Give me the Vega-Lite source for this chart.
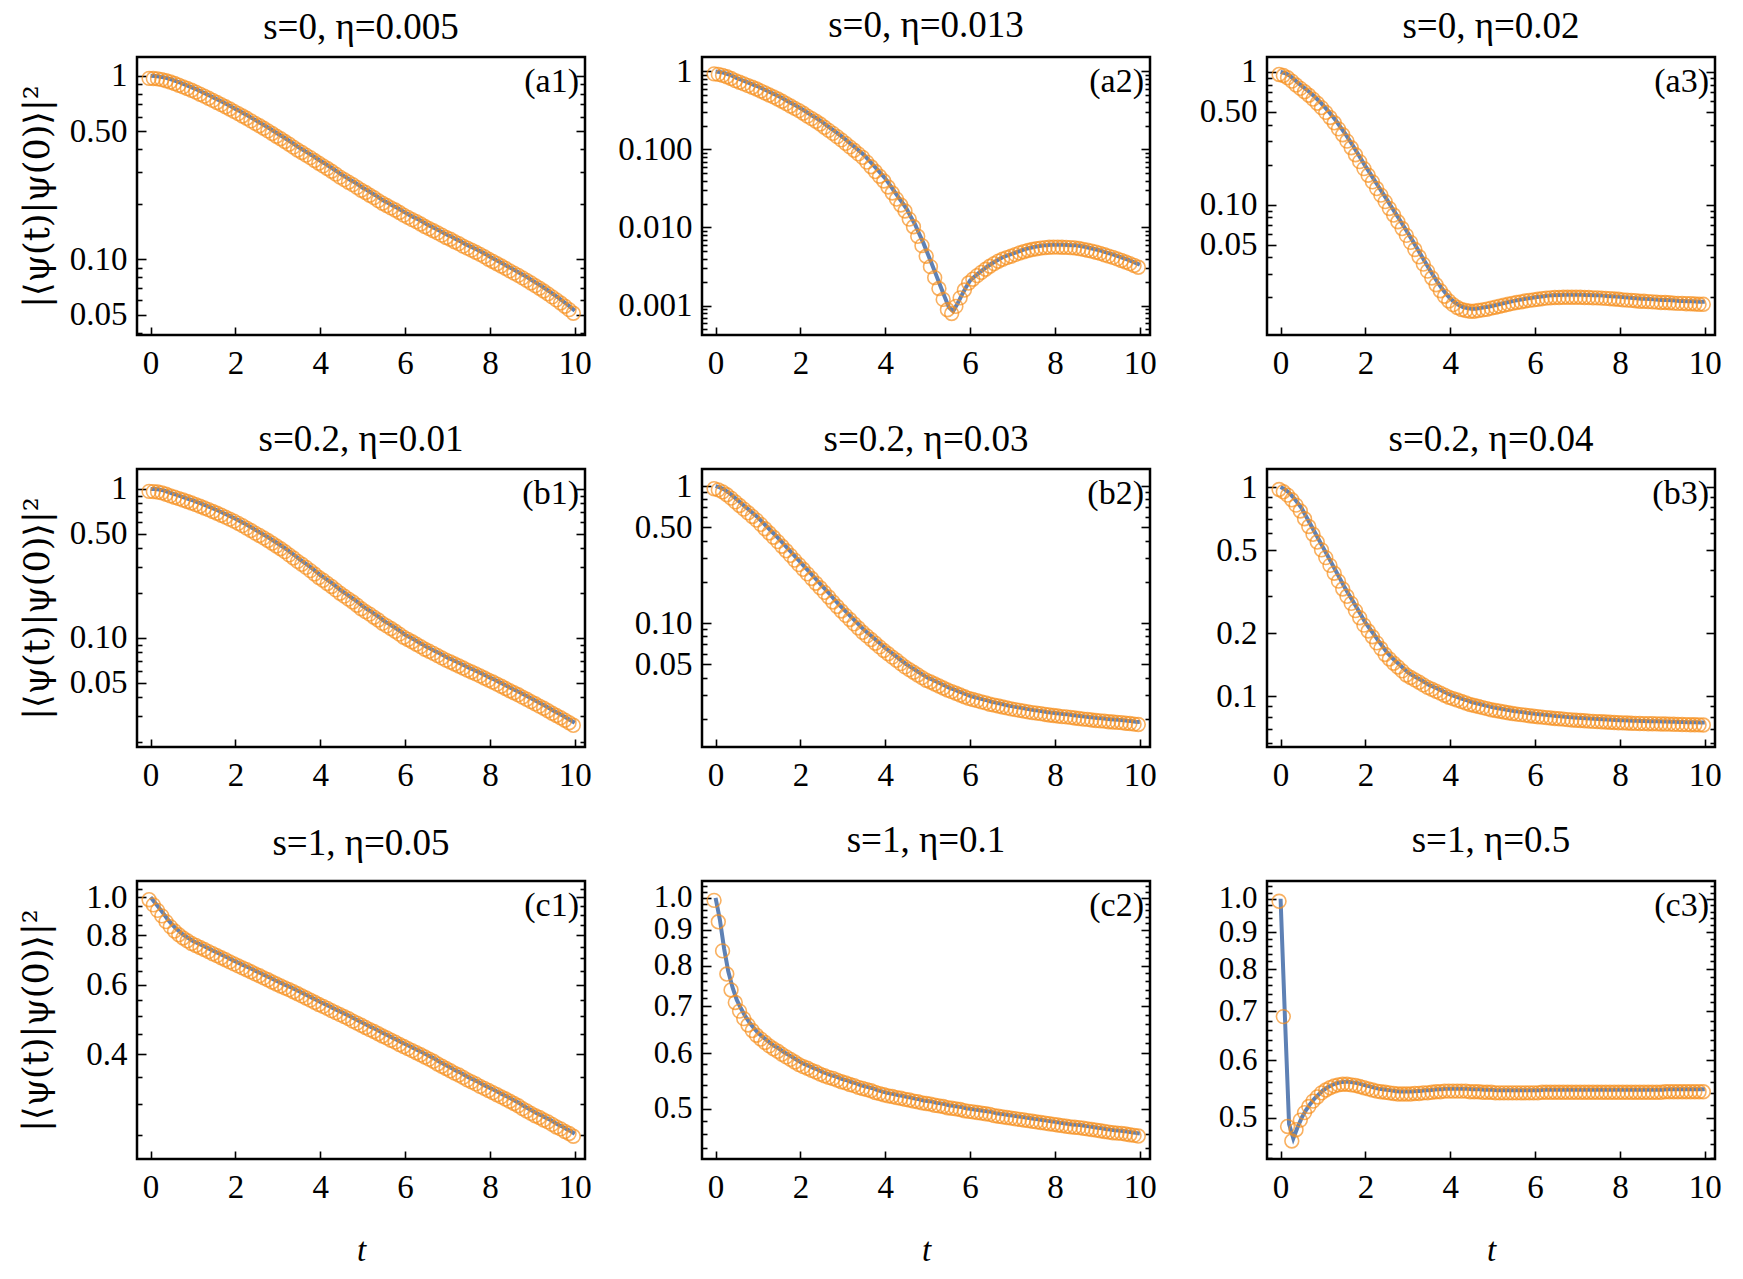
{
"$schema": "https://vega.github.io/schema/vega-lite/v6.json",
"padding": {"left": 18, "top": 6, "right": 10, "bottom": 4},
"background": "white",
"config": {
 "view": {"stroke": "black", "strokeWidth": 2.5},
 "axis": {"grid": false, "domain": false, "labelFlush": false, "labelOverlap": false, "labelBound": false, "tickColor": "black", "tickWidth": 1.6, "labelFont": "Liberation Serif", "labelFontSize": 33, "labelColor": "black", "titleFont": "Liberation Serif", "titleColor": "black", "titleFontWeight": "normal"},
 "title": {"font": "Liberation Serif", "fontSize": 37, "fontWeight": "normal", "color": "black", "offset": 10, "anchor": "middle"}
},
"datasets": {
"a1": [{"t":0,"y":1},{"t":0.1,"y":0.998},{"t":0.2,"y":0.993},{"t":0.3,"y":0.984},{"t":0.4,"y":0.971},{"t":0.5,"y":0.955},{"t":0.6,"y":0.937},{"t":0.7,"y":0.918},{"t":0.8,"y":0.899},{"t":0.9,"y":0.88},{"t":1,"y":0.861},{"t":1.1,"y":0.841},{"t":1.2,"y":0.82},{"t":1.3,"y":0.8},{"t":1.4,"y":0.779},{"t":1.5,"y":0.759},{"t":1.6,"y":0.739},{"t":1.7,"y":0.72},{"t":1.8,"y":0.7},{"t":1.9,"y":0.681},{"t":2,"y":0.661},{"t":2.1,"y":0.643},{"t":2.2,"y":0.624},{"t":2.3,"y":0.606},{"t":2.4,"y":0.587},{"t":2.5,"y":0.569},{"t":2.6,"y":0.552},{"t":2.7,"y":0.535},{"t":2.8,"y":0.518},{"t":2.9,"y":0.501},{"t":3,"y":0.484},{"t":3.1,"y":0.469},{"t":3.2,"y":0.453},{"t":3.3,"y":0.438},{"t":3.4,"y":0.422},{"t":3.5,"y":0.407},{"t":3.6,"y":0.395},{"t":3.7,"y":0.382},{"t":3.8,"y":0.37},{"t":3.9,"y":0.357},{"t":4,"y":0.345},{"t":4.1,"y":0.334},{"t":4.2,"y":0.323},{"t":4.3,"y":0.312},{"t":4.4,"y":0.301},{"t":4.5,"y":0.29},{"t":4.6,"y":0.281},{"t":4.7,"y":0.272},{"t":4.8,"y":0.264},{"t":4.9,"y":0.255},{"t":5,"y":0.246},{"t":5.1,"y":0.239},{"t":5.2,"y":0.231},{"t":5.3,"y":0.224},{"t":5.4,"y":0.216},{"t":5.5,"y":0.209},{"t":5.6,"y":0.203},{"t":5.7,"y":0.197},{"t":5.8,"y":0.192},{"t":5.9,"y":0.186},{"t":6,"y":0.18},{"t":6.1,"y":0.175},{"t":6.2,"y":0.17},{"t":6.3,"y":0.166},{"t":6.4,"y":0.161},{"t":6.5,"y":0.156},{"t":6.6,"y":0.152},{"t":6.7,"y":0.148},{"t":6.8,"y":0.144},{"t":6.9,"y":0.14},{"t":7,"y":0.136},{"t":7.1,"y":0.133},{"t":7.2,"y":0.129},{"t":7.3,"y":0.126},{"t":7.4,"y":0.122},{"t":7.5,"y":0.119},{"t":7.6,"y":0.116},{"t":7.7,"y":0.113},{"t":7.8,"y":0.11},{"t":7.9,"y":0.107},{"t":8,"y":0.1035},{"t":8.1,"y":0.1007},{"t":8.2,"y":0.0979},{"t":8.3,"y":0.0951},{"t":8.4,"y":0.0923},{"t":8.5,"y":0.0895},{"t":8.6,"y":0.087},{"t":8.7,"y":0.0845},{"t":8.8,"y":0.082},{"t":8.9,"y":0.0794},{"t":9,"y":0.0769},{"t":9.1,"y":0.0744},{"t":9.2,"y":0.072},{"t":9.3,"y":0.0695},{"t":9.4,"y":0.0671},{"t":9.5,"y":0.0646},{"t":9.6,"y":0.0622},{"t":9.7,"y":0.0598},{"t":9.8,"y":0.0574},{"t":9.9,"y":0.055},{"t":10,"y":0.0526}],
"a2": [{"t":0,"y":1},{"t":0.1,"y":0.986},{"t":0.2,"y":0.959},{"t":0.3,"y":0.92},{"t":0.4,"y":0.873},{"t":0.5,"y":0.82},{"t":0.6,"y":0.782},{"t":0.7,"y":0.745},{"t":0.8,"y":0.708},{"t":0.9,"y":0.674},{"t":1,"y":0.641},{"t":1.1,"y":0.604},{"t":1.2,"y":0.57},{"t":1.3,"y":0.537},{"t":1.4,"y":0.507},{"t":1.5,"y":0.477},{"t":1.6,"y":0.446},{"t":1.7,"y":0.416},{"t":1.8,"y":0.388},{"t":1.9,"y":0.362},{"t":2,"y":0.338},{"t":2.1,"y":0.313},{"t":2.2,"y":0.288},{"t":2.3,"y":0.267},{"t":2.4,"y":0.247},{"t":2.5,"y":0.228},{"t":2.6,"y":0.207},{"t":2.7,"y":0.189},{"t":2.8,"y":0.173},{"t":2.9,"y":0.157},{"t":3,"y":0.143},{"t":3.1,"y":0.129},{"t":3.2,"y":0.116},{"t":3.3,"y":0.105},{"t":3.4,"y":0.0944},{"t":3.5,"y":0.0851},{"t":3.6,"y":0.0741},{"t":3.7,"y":0.0646},{"t":3.8,"y":0.0561},{"t":3.9,"y":0.0489},{"t":4,"y":0.0425},{"t":4.1,"y":0.0356},{"t":4.2,"y":0.0298},{"t":4.3,"y":0.0249},{"t":4.4,"y":0.0209},{"t":4.5,"y":0.0175},{"t":4.6,"y":0.0138},{"t":4.7,"y":0.011},{"t":4.8,"y":0.0083},{"t":4.9,"y":0.0063},{"t":5,"y":0.00461},{"t":5.1,"y":0.00339},{"t":5.2,"y":0.00245},{"t":5.3,"y":0.00178},{"t":5.4,"y":0.00129},{"t":5.5,"y":0.00095},{"t":5.6,"y":0.00085},{"t":5.7,"y":0.00105},{"t":5.8,"y":0.00135},{"t":5.9,"y":0.0017},{"t":6,"y":0.00209},{"t":6.1,"y":0.00234},{"t":6.2,"y":0.0026},{"t":6.3,"y":0.00286},{"t":6.4,"y":0.00314},{"t":6.5,"y":0.00343},{"t":6.6,"y":0.0037},{"t":6.7,"y":0.00398},{"t":6.8,"y":0.00422},{"t":6.9,"y":0.00443},{"t":7,"y":0.00461},{"t":7.1,"y":0.00484},{"t":7.2,"y":0.00507},{"t":7.3,"y":0.00527},{"t":7.4,"y":0.00546},{"t":7.5,"y":0.00562},{"t":7.6,"y":0.00575},{"t":7.7,"y":0.00586},{"t":7.8,"y":0.00594},{"t":7.9,"y":0.006},{"t":8,"y":0.00603},{"t":8.1,"y":0.00603},{"t":8.2,"y":0.00601},{"t":8.3,"y":0.00598},{"t":8.4,"y":0.00594},{"t":8.5,"y":0.0059},{"t":8.6,"y":0.00578},{"t":8.7,"y":0.00565},{"t":8.8,"y":0.0055},{"t":8.9,"y":0.00535},{"t":9,"y":0.00519},{"t":9.1,"y":0.00501},{"t":9.2,"y":0.00481},{"t":9.3,"y":0.00463},{"t":9.4,"y":0.00445},{"t":9.5,"y":0.00427},{"t":9.6,"y":0.00407},{"t":9.7,"y":0.00389},{"t":9.8,"y":0.0037},{"t":9.9,"y":0.00351},{"t":10,"y":0.00333}],
"a3": [{"t":0,"y":1},{"t":0.1,"y":0.982},{"t":0.2,"y":0.944},{"t":0.3,"y":0.891},{"t":0.4,"y":0.832},{"t":0.5,"y":0.785},{"t":0.6,"y":0.741},{"t":0.7,"y":0.697},{"t":0.8,"y":0.652},{"t":0.9,"y":0.607},{"t":1,"y":0.562},{"t":1.1,"y":0.518},{"t":1.2,"y":0.474},{"t":1.3,"y":0.432},{"t":1.4,"y":0.389},{"t":1.5,"y":0.351},{"t":1.6,"y":0.314},{"t":1.7,"y":0.28},{"t":1.8,"y":0.248},{"t":1.9,"y":0.22},{"t":2,"y":0.195},{"t":2.1,"y":0.174},{"t":2.2,"y":0.155},{"t":2.3,"y":0.138},{"t":2.4,"y":0.123},{"t":2.5,"y":0.11},{"t":2.6,"y":0.0977},{"t":2.7,"y":0.0871},{"t":2.8,"y":0.0776},{"t":2.9,"y":0.0689},{"t":3,"y":0.0612},{"t":3.1,"y":0.0542},{"t":3.2,"y":0.0479},{"t":3.3,"y":0.0422},{"t":3.4,"y":0.0372},{"t":3.5,"y":0.0329},{"t":3.6,"y":0.0292},{"t":3.7,"y":0.026},{"t":3.8,"y":0.0234},{"t":3.9,"y":0.0213},{"t":4,"y":0.0196},{"t":4.1,"y":0.0184},{"t":4.2,"y":0.0175},{"t":4.3,"y":0.0169},{"t":4.4,"y":0.0166},{"t":4.5,"y":0.0164},{"t":4.6,"y":0.0164},{"t":4.7,"y":0.0166},{"t":4.8,"y":0.0168},{"t":4.9,"y":0.017},{"t":5,"y":0.0173},{"t":5.1,"y":0.0176},{"t":5.2,"y":0.0179},{"t":5.3,"y":0.0182},{"t":5.4,"y":0.0185},{"t":5.5,"y":0.0188},{"t":5.6,"y":0.0191},{"t":5.7,"y":0.0193},{"t":5.8,"y":0.0196},{"t":5.9,"y":0.0198},{"t":6,"y":0.02},{"t":6.1,"y":0.0202},{"t":6.2,"y":0.0204},{"t":6.3,"y":0.0206},{"t":6.4,"y":0.0207},{"t":6.5,"y":0.0208},{"t":6.6,"y":0.0208},{"t":6.7,"y":0.0209},{"t":6.8,"y":0.0209},{"t":6.9,"y":0.0209},{"t":7,"y":0.0209},{"t":7.1,"y":0.0209},{"t":7.2,"y":0.0208},{"t":7.3,"y":0.0208},{"t":7.4,"y":0.0207},{"t":7.5,"y":0.0207},{"t":7.6,"y":0.0206},{"t":7.7,"y":0.0205},{"t":7.8,"y":0.0204},{"t":7.9,"y":0.0203},{"t":8,"y":0.0202},{"t":8.1,"y":0.02},{"t":8.2,"y":0.0199},{"t":8.3,"y":0.0198},{"t":8.4,"y":0.0197},{"t":8.5,"y":0.0195},{"t":8.6,"y":0.0195},{"t":8.7,"y":0.0194},{"t":8.8,"y":0.0193},{"t":8.9,"y":0.0192},{"t":9,"y":0.0191},{"t":9.1,"y":0.0191},{"t":9.2,"y":0.019},{"t":9.3,"y":0.0189},{"t":9.4,"y":0.0188},{"t":9.5,"y":0.0188},{"t":9.6,"y":0.0187},{"t":9.7,"y":0.0187},{"t":9.8,"y":0.0186},{"t":9.9,"y":0.0185},{"t":10,"y":0.0185}],
"b1": [{"t":0,"y":1},{"t":0.1,"y":0.997},{"t":0.2,"y":0.99},{"t":0.3,"y":0.977},{"t":0.4,"y":0.957},{"t":0.5,"y":0.933},{"t":0.6,"y":0.914},{"t":0.7,"y":0.894},{"t":0.8,"y":0.875},{"t":0.9,"y":0.855},{"t":1,"y":0.836},{"t":1.1,"y":0.815},{"t":1.2,"y":0.795},{"t":1.3,"y":0.774},{"t":1.4,"y":0.754},{"t":1.5,"y":0.733},{"t":1.6,"y":0.713},{"t":1.7,"y":0.692},{"t":1.8,"y":0.672},{"t":1.9,"y":0.651},{"t":2,"y":0.631},{"t":2.1,"y":0.61},{"t":2.2,"y":0.589},{"t":2.3,"y":0.567},{"t":2.4,"y":0.546},{"t":2.5,"y":0.525},{"t":2.6,"y":0.506},{"t":2.7,"y":0.487},{"t":2.8,"y":0.468},{"t":2.9,"y":0.449},{"t":3,"y":0.43},{"t":3.1,"y":0.412},{"t":3.2,"y":0.394},{"t":3.3,"y":0.375},{"t":3.4,"y":0.357},{"t":3.5,"y":0.339},{"t":3.6,"y":0.324},{"t":3.7,"y":0.309},{"t":3.8,"y":0.294},{"t":3.9,"y":0.279},{"t":4,"y":0.264},{"t":4.1,"y":0.253},{"t":4.2,"y":0.241},{"t":4.3,"y":0.23},{"t":4.4,"y":0.218},{"t":4.5,"y":0.207},{"t":4.6,"y":0.198},{"t":4.7,"y":0.189},{"t":4.8,"y":0.181},{"t":4.9,"y":0.172},{"t":5,"y":0.163},{"t":5.1,"y":0.156},{"t":5.2,"y":0.15},{"t":5.3,"y":0.143},{"t":5.4,"y":0.137},{"t":5.5,"y":0.13},{"t":5.6,"y":0.125},{"t":5.7,"y":0.12},{"t":5.8,"y":0.115},{"t":5.9,"y":0.11},{"t":6,"y":0.105},{"t":6.1,"y":0.1014},{"t":6.2,"y":0.0978},{"t":6.3,"y":0.0942},{"t":6.4,"y":0.0907},{"t":6.5,"y":0.0871},{"t":6.6,"y":0.0844},{"t":6.7,"y":0.0817},{"t":6.8,"y":0.079},{"t":6.9,"y":0.0763},{"t":7,"y":0.0736},{"t":7.1,"y":0.0715},{"t":7.2,"y":0.0694},{"t":7.3,"y":0.0673},{"t":7.4,"y":0.0652},{"t":7.5,"y":0.0631},{"t":7.6,"y":0.0613},{"t":7.7,"y":0.0595},{"t":7.8,"y":0.0577},{"t":7.9,"y":0.0559},{"t":8,"y":0.0541},{"t":8.1,"y":0.0525},{"t":8.2,"y":0.0508},{"t":8.3,"y":0.0492},{"t":8.4,"y":0.0475},{"t":8.5,"y":0.0459},{"t":8.6,"y":0.0445},{"t":8.7,"y":0.0431},{"t":8.8,"y":0.0416},{"t":8.9,"y":0.0402},{"t":9,"y":0.0388},{"t":9.1,"y":0.0375},{"t":9.2,"y":0.0362},{"t":9.3,"y":0.035},{"t":9.4,"y":0.0337},{"t":9.5,"y":0.0324},{"t":9.6,"y":0.0313},{"t":9.7,"y":0.0302},{"t":9.8,"y":0.0291},{"t":9.9,"y":0.028},{"t":10,"y":0.0269}],
"b2": [{"t":0,"y":1},{"t":0.1,"y":0.98},{"t":0.2,"y":0.947},{"t":0.3,"y":0.903},{"t":0.4,"y":0.853},{"t":0.5,"y":0.801},{"t":0.6,"y":0.754},{"t":0.7,"y":0.709},{"t":0.8,"y":0.667},{"t":0.9,"y":0.627},{"t":1,"y":0.59},{"t":1.1,"y":0.549},{"t":1.2,"y":0.51},{"t":1.3,"y":0.475},{"t":1.4,"y":0.442},{"t":1.5,"y":0.411},{"t":1.6,"y":0.38},{"t":1.7,"y":0.352},{"t":1.8,"y":0.326},{"t":1.9,"y":0.301},{"t":2,"y":0.279},{"t":2.1,"y":0.258},{"t":2.2,"y":0.239},{"t":2.3,"y":0.221},{"t":2.4,"y":0.204},{"t":2.5,"y":0.189},{"t":2.6,"y":0.175},{"t":2.7,"y":0.162},{"t":2.8,"y":0.149},{"t":2.9,"y":0.138},{"t":3,"y":0.128},{"t":3.1,"y":0.119},{"t":3.2,"y":0.111},{"t":3.3,"y":0.103},{"t":3.4,"y":0.0962},{"t":3.5,"y":0.0895},{"t":3.6,"y":0.0842},{"t":3.7,"y":0.0792},{"t":3.8,"y":0.0745},{"t":3.9,"y":0.0701},{"t":4,"y":0.0659},{"t":4.1,"y":0.0624},{"t":4.2,"y":0.059},{"t":4.3,"y":0.0559},{"t":4.4,"y":0.0529},{"t":4.5,"y":0.05},{"t":4.6,"y":0.0478},{"t":4.7,"y":0.0457},{"t":4.8,"y":0.0437},{"t":4.9,"y":0.0418},{"t":5,"y":0.04},{"t":5.1,"y":0.0388},{"t":5.2,"y":0.0375},{"t":5.3,"y":0.0363},{"t":5.4,"y":0.0351},{"t":5.5,"y":0.0339},{"t":5.6,"y":0.033},{"t":5.7,"y":0.0321},{"t":5.8,"y":0.0312},{"t":5.9,"y":0.0303},{"t":6,"y":0.0295},{"t":6.1,"y":0.0289},{"t":6.2,"y":0.0284},{"t":6.3,"y":0.0278},{"t":6.4,"y":0.0273},{"t":6.5,"y":0.0267},{"t":6.6,"y":0.0263},{"t":6.7,"y":0.0259},{"t":6.8,"y":0.0255},{"t":6.9,"y":0.0251},{"t":7,"y":0.0247},{"t":7.1,"y":0.0244},{"t":7.2,"y":0.0241},{"t":7.3,"y":0.0238},{"t":7.4,"y":0.0235},{"t":7.5,"y":0.0232},{"t":7.6,"y":0.023},{"t":7.7,"y":0.0228},{"t":7.8,"y":0.0225},{"t":7.9,"y":0.0223},{"t":8,"y":0.0221},{"t":8.1,"y":0.0219},{"t":8.2,"y":0.0217},{"t":8.3,"y":0.0216},{"t":8.4,"y":0.0214},{"t":8.5,"y":0.0212},{"t":8.6,"y":0.021},{"t":8.7,"y":0.0208},{"t":8.8,"y":0.0207},{"t":8.9,"y":0.0205},{"t":9,"y":0.0203},{"t":9.1,"y":0.0202},{"t":9.2,"y":0.0201},{"t":9.3,"y":0.0199},{"t":9.4,"y":0.0198},{"t":9.5,"y":0.0197},{"t":9.6,"y":0.0196},{"t":9.7,"y":0.0194},{"t":9.8,"y":0.0193},{"t":9.9,"y":0.0191},{"t":10,"y":0.019}],
"b3": [{"t":0,"y":1},{"t":0.1,"y":0.975},{"t":0.2,"y":0.94},{"t":0.3,"y":0.893},{"t":0.4,"y":0.842},{"t":0.5,"y":0.79},{"t":0.6,"y":0.725},{"t":0.7,"y":0.666},{"t":0.8,"y":0.611},{"t":0.9,"y":0.561},{"t":1,"y":0.515},{"t":1.1,"y":0.473},{"t":1.2,"y":0.434},{"t":1.3,"y":0.398},{"t":1.4,"y":0.365},{"t":1.5,"y":0.335},{"t":1.6,"y":0.309},{"t":1.7,"y":0.286},{"t":1.8,"y":0.264},{"t":1.9,"y":0.244},{"t":2,"y":0.225},{"t":2.1,"y":0.211},{"t":2.2,"y":0.198},{"t":2.3,"y":0.185},{"t":2.4,"y":0.174},{"t":2.5,"y":0.163},{"t":2.6,"y":0.155},{"t":2.7,"y":0.148},{"t":2.8,"y":0.142},{"t":2.9,"y":0.136},{"t":3,"y":0.13},{"t":3.1,"y":0.1265},{"t":3.2,"y":0.1232},{"t":3.3,"y":0.12},{"t":3.4,"y":0.1167},{"t":3.5,"y":0.1135},{"t":3.6,"y":0.1111},{"t":3.7,"y":0.1088},{"t":3.8,"y":0.1065},{"t":3.9,"y":0.1041},{"t":4,"y":0.1018},{"t":4.1,"y":0.1002},{"t":4.2,"y":0.0987},{"t":4.3,"y":0.0971},{"t":4.4,"y":0.0956},{"t":4.5,"y":0.094},{"t":4.6,"y":0.0929},{"t":4.7,"y":0.0919},{"t":4.8,"y":0.0908},{"t":4.9,"y":0.0898},{"t":5,"y":0.0887},{"t":5.1,"y":0.088},{"t":5.2,"y":0.0873},{"t":5.3,"y":0.0865},{"t":5.4,"y":0.0858},{"t":5.5,"y":0.0851},{"t":5.6,"y":0.0846},{"t":5.7,"y":0.0841},{"t":5.8,"y":0.0836},{"t":5.9,"y":0.0831},{"t":6,"y":0.0826},{"t":6.1,"y":0.0822},{"t":6.2,"y":0.0818},{"t":6.3,"y":0.0814},{"t":6.4,"y":0.081},{"t":6.5,"y":0.0806},{"t":6.6,"y":0.0803},{"t":6.7,"y":0.08},{"t":6.8,"y":0.0796},{"t":6.9,"y":0.0793},{"t":7,"y":0.079},{"t":7.1,"y":0.0788},{"t":7.2,"y":0.0786},{"t":7.3,"y":0.0783},{"t":7.4,"y":0.0781},{"t":7.5,"y":0.0779},{"t":7.6,"y":0.0777},{"t":7.7,"y":0.0775},{"t":7.8,"y":0.0773},{"t":7.9,"y":0.0771},{"t":8,"y":0.0769},{"t":8.1,"y":0.0768},{"t":8.2,"y":0.0767},{"t":8.3,"y":0.0765},{"t":8.4,"y":0.0764},{"t":8.5,"y":0.0763},{"t":8.6,"y":0.0762},{"t":8.7,"y":0.0761},{"t":8.8,"y":0.0761},{"t":8.9,"y":0.076},{"t":9,"y":0.0759},{"t":9.1,"y":0.0758},{"t":9.2,"y":0.0757},{"t":9.3,"y":0.0756},{"t":9.4,"y":0.0755},{"t":9.5,"y":0.0754},{"t":9.6,"y":0.0753},{"t":9.7,"y":0.0752},{"t":9.8,"y":0.0752},{"t":9.9,"y":0.0751},{"t":10,"y":0.075}],
"c1": [{"t":0,"y":1},{"t":0.1,"y":0.97},{"t":0.2,"y":0.94},{"t":0.3,"y":0.91},{"t":0.4,"y":0.88},{"t":0.5,"y":0.855},{"t":0.6,"y":0.833},{"t":0.7,"y":0.815},{"t":0.8,"y":0.8},{"t":0.9,"y":0.787},{"t":1,"y":0.775},{"t":1.1,"y":0.766},{"t":1.2,"y":0.757},{"t":1.3,"y":0.748},{"t":1.4,"y":0.739},{"t":1.5,"y":0.73},{"t":1.6,"y":0.722},{"t":1.7,"y":0.713},{"t":1.8,"y":0.705},{"t":1.9,"y":0.696},{"t":2,"y":0.688},{"t":2.1,"y":0.68},{"t":2.2,"y":0.672},{"t":2.3,"y":0.665},{"t":2.4,"y":0.657},{"t":2.5,"y":0.649},{"t":2.6,"y":0.642},{"t":2.7,"y":0.634},{"t":2.8,"y":0.627},{"t":2.9,"y":0.619},{"t":3,"y":0.612},{"t":3.1,"y":0.605},{"t":3.2,"y":0.598},{"t":3.3,"y":0.592},{"t":3.4,"y":0.585},{"t":3.5,"y":0.578},{"t":3.6,"y":0.571},{"t":3.7,"y":0.564},{"t":3.8,"y":0.557},{"t":3.9,"y":0.55},{"t":4,"y":0.543},{"t":4.1,"y":0.537},{"t":4.2,"y":0.531},{"t":4.3,"y":0.524},{"t":4.4,"y":0.518},{"t":4.5,"y":0.512},{"t":4.6,"y":0.506},{"t":4.7,"y":0.5},{"t":4.8,"y":0.493},{"t":4.9,"y":0.487},{"t":5,"y":0.481},{"t":5.1,"y":0.475},{"t":5.2,"y":0.469},{"t":5.3,"y":0.464},{"t":5.4,"y":0.458},{"t":5.5,"y":0.452},{"t":5.6,"y":0.447},{"t":5.7,"y":0.441},{"t":5.8,"y":0.436},{"t":5.9,"y":0.43},{"t":6,"y":0.425},{"t":6.1,"y":0.42},{"t":6.2,"y":0.415},{"t":6.3,"y":0.41},{"t":6.4,"y":0.405},{"t":6.5,"y":0.4},{"t":6.6,"y":0.395},{"t":6.7,"y":0.39},{"t":6.8,"y":0.384},{"t":6.9,"y":0.379},{"t":7,"y":0.374},{"t":7.1,"y":0.369},{"t":7.2,"y":0.364},{"t":7.3,"y":0.36},{"t":7.4,"y":0.355},{"t":7.5,"y":0.35},{"t":7.6,"y":0.346},{"t":7.7,"y":0.342},{"t":7.8,"y":0.337},{"t":7.9,"y":0.333},{"t":8,"y":0.329},{"t":8.1,"y":0.325},{"t":8.2,"y":0.321},{"t":8.3,"y":0.317},{"t":8.4,"y":0.313},{"t":8.5,"y":0.309},{"t":8.6,"y":0.305},{"t":8.7,"y":0.301},{"t":8.8,"y":0.296},{"t":8.9,"y":0.292},{"t":9,"y":0.288},{"t":9.1,"y":0.284},{"t":9.2,"y":0.281},{"t":9.3,"y":0.277},{"t":9.4,"y":0.274},{"t":9.5,"y":0.27},{"t":9.6,"y":0.266},{"t":9.7,"y":0.263},{"t":9.8,"y":0.259},{"t":9.9,"y":0.256},{"t":10,"y":0.252}],
"c2": [{"t":0,"y":1},{"t":0.1,"y":0.932},{"t":0.2,"y":0.847},{"t":0.3,"y":0.785},{"t":0.4,"y":0.745},{"t":0.5,"y":0.715},{"t":0.6,"y":0.695},{"t":0.7,"y":0.678},{"t":0.8,"y":0.664},{"t":0.9,"y":0.652},{"t":1,"y":0.642},{"t":1.1,"y":0.634},{"t":1.2,"y":0.627},{"t":1.3,"y":0.62},{"t":1.4,"y":0.614},{"t":1.5,"y":0.609},{"t":1.6,"y":0.603},{"t":1.7,"y":0.598},{"t":1.8,"y":0.593},{"t":1.9,"y":0.588},{"t":2,"y":0.583},{"t":2.1,"y":0.579},{"t":2.2,"y":0.576},{"t":2.3,"y":0.572},{"t":2.4,"y":0.569},{"t":2.5,"y":0.565},{"t":2.6,"y":0.562},{"t":2.7,"y":0.559},{"t":2.8,"y":0.557},{"t":2.9,"y":0.554},{"t":3,"y":0.551},{"t":3.1,"y":0.549},{"t":3.2,"y":0.546},{"t":3.3,"y":0.544},{"t":3.4,"y":0.541},{"t":3.5,"y":0.539},{"t":3.6,"y":0.537},{"t":3.7,"y":0.535},{"t":3.8,"y":0.532},{"t":3.9,"y":0.53},{"t":4,"y":0.528},{"t":4.1,"y":0.526},{"t":4.2,"y":0.525},{"t":4.3,"y":0.523},{"t":4.4,"y":0.522},{"t":4.5,"y":0.52},{"t":4.6,"y":0.519},{"t":4.7,"y":0.517},{"t":4.8,"y":0.516},{"t":4.9,"y":0.514},{"t":5,"y":0.513},{"t":5.1,"y":0.512},{"t":5.2,"y":0.51},{"t":5.3,"y":0.509},{"t":5.4,"y":0.508},{"t":5.5,"y":0.506},{"t":5.6,"y":0.505},{"t":5.7,"y":0.504},{"t":5.8,"y":0.503},{"t":5.9,"y":0.501},{"t":6,"y":0.5},{"t":6.1,"y":0.499},{"t":6.2,"y":0.498},{"t":6.3,"y":0.497},{"t":6.4,"y":0.496},{"t":6.5,"y":0.495},{"t":6.6,"y":0.493},{"t":6.7,"y":0.492},{"t":6.8,"y":0.491},{"t":6.9,"y":0.49},{"t":7,"y":0.489},{"t":7.1,"y":0.488},{"t":7.2,"y":0.487},{"t":7.3,"y":0.486},{"t":7.4,"y":0.485},{"t":7.5,"y":0.484},{"t":7.6,"y":0.483},{"t":7.7,"y":0.482},{"t":7.8,"y":0.481},{"t":7.9,"y":0.48},{"t":8,"y":0.479},{"t":8.1,"y":0.478},{"t":8.2,"y":0.477},{"t":8.3,"y":0.476},{"t":8.4,"y":0.475},{"t":8.5,"y":0.4745},{"t":8.6,"y":0.474},{"t":8.7,"y":0.473},{"t":8.8,"y":0.472},{"t":8.9,"y":0.471},{"t":9,"y":0.47},{"t":9.1,"y":0.469},{"t":9.2,"y":0.468},{"t":9.3,"y":0.467},{"t":9.4,"y":0.466},{"t":9.5,"y":0.4655},{"t":9.6,"y":0.465},{"t":9.7,"y":0.464},{"t":9.8,"y":0.463},{"t":9.9,"y":0.462},{"t":10,"y":0.461}],
"c3": [{"t":0,"y":1},{"t":0.1,"y":0.694},{"t":0.2,"y":0.49},{"t":0.3,"y":0.468},{"t":0.4,"y":0.485},{"t":0.5,"y":0.5},{"t":0.6,"y":0.512},{"t":0.7,"y":0.522},{"t":0.8,"y":0.531},{"t":0.9,"y":0.538},{"t":1,"y":0.545},{"t":1.1,"y":0.55},{"t":1.2,"y":0.554},{"t":1.3,"y":0.557},{"t":1.4,"y":0.559},{"t":1.5,"y":0.56},{"t":1.6,"y":0.56},{"t":1.7,"y":0.559},{"t":1.8,"y":0.558},{"t":1.9,"y":0.556},{"t":2,"y":0.554},{"t":2.1,"y":0.552},{"t":2.2,"y":0.55},{"t":2.3,"y":0.548},{"t":2.4,"y":0.547},{"t":2.5,"y":0.546},{"t":2.6,"y":0.545},{"t":2.7,"y":0.544},{"t":2.8,"y":0.543},{"t":2.9,"y":0.543},{"t":3,"y":0.543},{"t":3.1,"y":0.543},{"t":3.2,"y":0.544},{"t":3.3,"y":0.544},{"t":3.4,"y":0.545},{"t":3.5,"y":0.545},{"t":3.6,"y":0.546},{"t":3.7,"y":0.547},{"t":3.8,"y":0.547},{"t":3.9,"y":0.548},{"t":4,"y":0.548},{"t":4.1,"y":0.548},{"t":4.2,"y":0.548},{"t":4.3,"y":0.548},{"t":4.4,"y":0.548},{"t":4.5,"y":0.547},{"t":4.6,"y":0.547},{"t":4.7,"y":0.547},{"t":4.8,"y":0.546},{"t":4.9,"y":0.546},{"t":5,"y":0.546},{"t":5.1,"y":0.545},{"t":5.2,"y":0.545},{"t":5.3,"y":0.545},{"t":5.4,"y":0.545},{"t":5.5,"y":0.545},{"t":5.6,"y":0.545},{"t":5.7,"y":0.545},{"t":5.8,"y":0.545},{"t":5.9,"y":0.545},{"t":6,"y":0.545},{"t":6.1,"y":0.545},{"t":6.2,"y":0.546},{"t":6.3,"y":0.546},{"t":6.4,"y":0.546},{"t":6.5,"y":0.546},{"t":6.6,"y":0.546},{"t":6.7,"y":0.546},{"t":6.8,"y":0.546},{"t":6.9,"y":0.546},{"t":7,"y":0.546},{"t":7.1,"y":0.546},{"t":7.2,"y":0.546},{"t":7.3,"y":0.546},{"t":7.4,"y":0.546},{"t":7.5,"y":0.546},{"t":7.6,"y":0.546},{"t":7.7,"y":0.546},{"t":7.8,"y":0.546},{"t":7.9,"y":0.546},{"t":8,"y":0.546},{"t":8.1,"y":0.546},{"t":8.2,"y":0.546},{"t":8.3,"y":0.546},{"t":8.4,"y":0.546},{"t":8.5,"y":0.546},{"t":8.6,"y":0.546},{"t":8.7,"y":0.546},{"t":8.8,"y":0.546},{"t":8.9,"y":0.546},{"t":9,"y":0.546},{"t":9.1,"y":0.547},{"t":9.2,"y":0.547},{"t":9.3,"y":0.547},{"t":9.4,"y":0.547},{"t":9.5,"y":0.547},{"t":9.6,"y":0.547},{"t":9.7,"y":0.547},{"t":9.8,"y":0.547},{"t":9.9,"y":0.547},{"t":10,"y":0.547}]
},
"concat": [
{"width": 448, "height": 278, "title": "s=0, η=0.005", "data": {"name": "a1"},
 "resolve": {"axis": {"x": "independent", "y": "independent"}},
 "layer": [
  {"mark": {"type": "line", "color": "#5E81B5", "strokeWidth": 4},
   "encoding": {
    "x": {"field": "t", "type": "quantitative", "scale": {"domain": [-0.32, 10.24], "nice": false, "zero": false}, "axis": {"orient": "bottom", "values": [0,2,4,6,8,10], "tickSize": -8, "labelPadding": 20, "title": null}},
    "y": {"field": "y", "type": "quantitative", "scale": {"type": "log", "domain": [0.0388, 1.267], "nice": false}, "axis": {"orient": "left", "values": [1,0.5,0.1,0.05,0.04,0.06,0.07,0.08,0.09,0.2,0.3,0.4,0.6,0.7,0.8,0.9], "labelExpr": "datum.value==1?'1':datum.value==0.5?'0.50':datum.value==0.1?'0.10':datum.value==0.05?'0.05':''", "tickSize": {"condition": {"test": "indexof([1,0.5,0.1,0.05],datum.value)>=0", "value": -9}, "value": -5}, "labelPadding": 19, "title": "|⟨ψ(t)|ψ(0)⟩|²", "titleFont": "DejaVu Serif", "titleFontSize": 35, "titlePadding": 14}}}},
  {"mark": {"type": "point", "shape": "circle", "filled": false, "color": "#F7901E", "strokeWidth": 1.6, "size": 190, "xOffset": -1.5, "yOffset": 2.5},
   "encoding": {
    "x": {"field": "t", "type": "quantitative", "axis": null},
    "y": {"field": "y", "type": "quantitative", "axis": {"orient": "right", "values": [1,0.5,0.1,0.05,0.04,0.06,0.07,0.08,0.09,0.2,0.3,0.4,0.6,0.7,0.8,0.9], "labels": false, "tickSize": {"condition": {"test": "indexof([1,0.5,0.1,0.05],datum.value)>=0", "value": -9}, "value": -5}, "title": null}}}},
  {"data": {"values": [{"label": "(a1)"}]},
   "mark": {"type": "text", "font": "Liberation Serif", "fontSize": 34, "align": "right", "baseline": "top", "dx": -6, "dy": 8, "color": "black"},
   "encoding": {"x": {"datum": 10.24, "type": "quantitative", "axis": null}, "y": {"datum": 1.267, "type": "quantitative", "axis": null}, "text": {"field": "label"}}}
 ]},
{"width": 448, "height": 278, "title": "s=0, η=0.013", "data": {"name": "a2"},
 "resolve": {"axis": {"x": "independent", "y": "independent"}},
 "layer": [
  {"mark": {"type": "line", "color": "#5E81B5", "strokeWidth": 4},
   "encoding": {
    "x": {"field": "t", "type": "quantitative", "scale": {"domain": [-0.32, 10.24], "nice": false, "zero": false}, "axis": {"orient": "bottom", "values": [0,2,4,6,8,10], "tickSize": -8, "labelPadding": 20, "title": null}},
    "y": {"field": "y", "type": "quantitative", "scale": {"type": "log", "domain": [0.000419, 1.53], "nice": false}, "axis": {"orient": "left", "values": [1,0.1,0.01,0.001,0.0005,0.0006,0.0007,0.0008,0.0009,0.002,0.003,0.004,0.005,0.006,0.007,0.008,0.009,0.02,0.03,0.04,0.05,0.06,0.07,0.08,0.09,0.2,0.3,0.4,0.5,0.6,0.7,0.8,0.9], "labelExpr": "datum.value==1?'1':datum.value==0.1?'0.100':datum.value==0.01?'0.010':datum.value==0.001?'0.001':''", "tickSize": {"condition": {"test": "indexof([1,0.1,0.01,0.001],datum.value)>=0", "value": -9}, "value": -5}, "labelPadding": 19, "title": null}}}},
  {"mark": {"type": "point", "shape": "circle", "filled": false, "color": "#F7901E", "strokeWidth": 1.6, "size": 190, "xOffset": -1.5, "yOffset": 2.5},
   "encoding": {
    "x": {"field": "t", "type": "quantitative", "axis": null},
    "y": {"field": "y", "type": "quantitative", "axis": {"orient": "right", "values": [1,0.1,0.01,0.001,0.0005,0.0006,0.0007,0.0008,0.0009,0.002,0.003,0.004,0.005,0.006,0.007,0.008,0.009,0.02,0.03,0.04,0.05,0.06,0.07,0.08,0.09,0.2,0.3,0.4,0.5,0.6,0.7,0.8,0.9], "labels": false, "tickSize": {"condition": {"test": "indexof([1,0.1,0.01,0.001],datum.value)>=0", "value": -9}, "value": -5}, "title": null}}}},
  {"data": {"values": [{"label": "(a2)"}]},
   "mark": {"type": "text", "font": "Liberation Serif", "fontSize": 34, "align": "right", "baseline": "top", "dx": -6, "dy": 8, "color": "black"},
   "encoding": {"x": {"datum": 10.24, "type": "quantitative", "axis": null}, "y": {"datum": 1.53, "type": "quantitative", "axis": null}, "text": {"field": "label"}}}
 ]},
{"width": 448, "height": 278, "title": "s=0, η=0.02", "data": {"name": "a3"},
 "resolve": {"axis": {"x": "independent", "y": "independent"}},
 "layer": [
  {"mark": {"type": "line", "color": "#5E81B5", "strokeWidth": 4},
   "encoding": {
    "x": {"field": "t", "type": "quantitative", "scale": {"domain": [-0.32, 10.24], "nice": false, "zero": false}, "axis": {"orient": "bottom", "values": [0,2,4,6,8,10], "tickSize": -8, "labelPadding": 20, "title": null}},
    "y": {"field": "y", "type": "quantitative", "scale": {"type": "log", "domain": [0.0104, 1.296], "nice": false}, "axis": {"orient": "left", "values": [1,0.5,0.1,0.05,0.02,0.03,0.04,0.06,0.07,0.08,0.09,0.2,0.3,0.4,0.6,0.7,0.8,0.9], "labelExpr": "datum.value==1?'1':datum.value==0.5?'0.50':datum.value==0.1?'0.10':datum.value==0.05?'0.05':''", "tickSize": {"condition": {"test": "indexof([1,0.5,0.1,0.05],datum.value)>=0", "value": -9}, "value": -5}, "labelPadding": 19, "title": null}}}},
  {"mark": {"type": "point", "shape": "circle", "filled": false, "color": "#F7901E", "strokeWidth": 1.6, "size": 190, "xOffset": -1.5, "yOffset": 2.5},
   "encoding": {
    "x": {"field": "t", "type": "quantitative", "axis": null},
    "y": {"field": "y", "type": "quantitative", "axis": {"orient": "right", "values": [1,0.5,0.1,0.05,0.02,0.03,0.04,0.06,0.07,0.08,0.09,0.2,0.3,0.4,0.6,0.7,0.8,0.9], "labels": false, "tickSize": {"condition": {"test": "indexof([1,0.5,0.1,0.05],datum.value)>=0", "value": -9}, "value": -5}, "title": null}}}},
  {"data": {"values": [{"label": "(a3)"}]},
   "mark": {"type": "text", "font": "Liberation Serif", "fontSize": 34, "align": "right", "baseline": "top", "dx": -6, "dy": 8, "color": "black"},
   "encoding": {"x": {"datum": 10.24, "type": "quantitative", "axis": null}, "y": {"datum": 1.296, "type": "quantitative", "axis": null}, "text": {"field": "label"}}}
 ]},
{"width": 448, "height": 278, "title": "s=0.2, η=0.01", "data": {"name": "b1"},
 "resolve": {"axis": {"x": "independent", "y": "independent"}},
 "layer": [
  {"mark": {"type": "line", "color": "#5E81B5", "strokeWidth": 4},
   "encoding": {
    "x": {"field": "t", "type": "quantitative", "scale": {"domain": [-0.32, 10.24], "nice": false, "zero": false}, "axis": {"orient": "bottom", "values": [0,2,4,6,8,10], "tickSize": -8, "labelPadding": 20, "title": null}},
    "y": {"field": "y", "type": "quantitative", "scale": {"type": "log", "domain": [0.0185, 1.36], "nice": false}, "axis": {"orient": "left", "values": [1,0.5,0.1,0.05,0.02,0.03,0.04,0.06,0.07,0.08,0.09,0.2,0.3,0.4,0.6,0.7,0.8,0.9], "labelExpr": "datum.value==1?'1':datum.value==0.5?'0.50':datum.value==0.1?'0.10':datum.value==0.05?'0.05':''", "tickSize": {"condition": {"test": "indexof([1,0.5,0.1,0.05],datum.value)>=0", "value": -9}, "value": -5}, "labelPadding": 19, "title": "|⟨ψ(t)|ψ(0)⟩|²", "titleFont": "DejaVu Serif", "titleFontSize": 35, "titlePadding": 14}}}},
  {"mark": {"type": "point", "shape": "circle", "filled": false, "color": "#F7901E", "strokeWidth": 1.6, "size": 190, "xOffset": -1.5, "yOffset": 2.5},
   "encoding": {
    "x": {"field": "t", "type": "quantitative", "axis": null},
    "y": {"field": "y", "type": "quantitative", "axis": {"orient": "right", "values": [1,0.5,0.1,0.05,0.02,0.03,0.04,0.06,0.07,0.08,0.09,0.2,0.3,0.4,0.6,0.7,0.8,0.9], "labels": false, "tickSize": {"condition": {"test": "indexof([1,0.5,0.1,0.05],datum.value)>=0", "value": -9}, "value": -5}, "title": null}}}},
  {"data": {"values": [{"label": "(b1)"}]},
   "mark": {"type": "text", "font": "Liberation Serif", "fontSize": 34, "align": "right", "baseline": "top", "dx": -6, "dy": 8, "color": "black"},
   "encoding": {"x": {"datum": 10.24, "type": "quantitative", "axis": null}, "y": {"datum": 1.36, "type": "quantitative", "axis": null}, "text": {"field": "label"}}}
 ]},
{"width": 448, "height": 278, "title": "s=0.2, η=0.03", "data": {"name": "b2"},
 "resolve": {"axis": {"x": "independent", "y": "independent"}},
 "layer": [
  {"mark": {"type": "line", "color": "#5E81B5", "strokeWidth": 4},
   "encoding": {
    "x": {"field": "t", "type": "quantitative", "scale": {"domain": [-0.32, 10.24], "nice": false, "zero": false}, "axis": {"orient": "bottom", "values": [0,2,4,6,8,10], "tickSize": -8, "labelPadding": 20, "title": null}},
    "y": {"field": "y", "type": "quantitative", "scale": {"type": "log", "domain": [0.01248, 1.335], "nice": false}, "axis": {"orient": "left", "values": [1,0.5,0.1,0.05,0.02,0.03,0.04,0.06,0.07,0.08,0.09,0.2,0.3,0.4,0.6,0.7,0.8,0.9], "labelExpr": "datum.value==1?'1':datum.value==0.5?'0.50':datum.value==0.1?'0.10':datum.value==0.05?'0.05':''", "tickSize": {"condition": {"test": "indexof([1,0.5,0.1,0.05],datum.value)>=0", "value": -9}, "value": -5}, "labelPadding": 19, "title": null}}}},
  {"mark": {"type": "point", "shape": "circle", "filled": false, "color": "#F7901E", "strokeWidth": 1.6, "size": 190, "xOffset": -1.5, "yOffset": 2.5},
   "encoding": {
    "x": {"field": "t", "type": "quantitative", "axis": null},
    "y": {"field": "y", "type": "quantitative", "axis": {"orient": "right", "values": [1,0.5,0.1,0.05,0.02,0.03,0.04,0.06,0.07,0.08,0.09,0.2,0.3,0.4,0.6,0.7,0.8,0.9], "labels": false, "tickSize": {"condition": {"test": "indexof([1,0.5,0.1,0.05],datum.value)>=0", "value": -9}, "value": -5}, "title": null}}}},
  {"data": {"values": [{"label": "(b2)"}]},
   "mark": {"type": "text", "font": "Liberation Serif", "fontSize": 34, "align": "right", "baseline": "top", "dx": -6, "dy": 8, "color": "black"},
   "encoding": {"x": {"datum": 10.24, "type": "quantitative", "axis": null}, "y": {"datum": 1.335, "type": "quantitative", "axis": null}, "text": {"field": "label"}}}
 ]},
{"width": 448, "height": 278, "title": "s=0.2, η=0.04", "data": {"name": "b3"},
 "resolve": {"axis": {"x": "independent", "y": "independent"}},
 "layer": [
  {"mark": {"type": "line", "color": "#5E81B5", "strokeWidth": 4},
   "encoding": {
    "x": {"field": "t", "type": "quantitative", "scale": {"domain": [-0.32, 10.24], "nice": false, "zero": false}, "axis": {"orient": "bottom", "values": [0,2,4,6,8,10], "tickSize": -8, "labelPadding": 20, "title": null}},
    "y": {"field": "y", "type": "quantitative", "scale": {"type": "log", "domain": [0.0573, 1.219], "nice": false}, "axis": {"orient": "left", "values": [1,0.5,0.2,0.1,0.06,0.07,0.08,0.09,0.3,0.4,0.6,0.7,0.8,0.9], "labelExpr": "datum.value==1?'1':datum.value==0.5?'0.5':datum.value==0.2?'0.2':datum.value==0.1?'0.1':''", "tickSize": {"condition": {"test": "indexof([1,0.5,0.2,0.1],datum.value)>=0", "value": -9}, "value": -5}, "labelPadding": 19, "title": null}}}},
  {"mark": {"type": "point", "shape": "circle", "filled": false, "color": "#F7901E", "strokeWidth": 1.6, "size": 190, "xOffset": -1.5, "yOffset": 2.5},
   "encoding": {
    "x": {"field": "t", "type": "quantitative", "axis": null},
    "y": {"field": "y", "type": "quantitative", "axis": {"orient": "right", "values": [1,0.5,0.2,0.1,0.06,0.07,0.08,0.09,0.3,0.4,0.6,0.7,0.8,0.9], "labels": false, "tickSize": {"condition": {"test": "indexof([1,0.5,0.2,0.1],datum.value)>=0", "value": -9}, "value": -5}, "title": null}}}},
  {"data": {"values": [{"label": "(b3)"}]},
   "mark": {"type": "text", "font": "Liberation Serif", "fontSize": 34, "align": "right", "baseline": "top", "dx": -6, "dy": 8, "color": "black"},
   "encoding": {"x": {"datum": 10.24, "type": "quantitative", "axis": null}, "y": {"datum": 1.219, "type": "quantitative", "axis": null}, "text": {"field": "label"}}}
 ]},
{"width": 448, "height": 278, "title": "s=1, η=0.05", "data": {"name": "c1"},
 "resolve": {"axis": {"x": "independent", "y": "independent"}},
 "layer": [
  {"mark": {"type": "line", "color": "#5E81B5", "strokeWidth": 4},
   "encoding": {
    "x": {"field": "t", "type": "quantitative", "scale": {"domain": [-0.32, 10.24], "nice": false, "zero": false}, "axis": {"orient": "bottom", "values": [0,2,4,6,8,10], "tickSize": -8, "labelPadding": 20, "title": "t", "titleFontStyle": "italic", "titleFontSize": 33, "titlePadding": 30}},
    "y": {"field": "y", "type": "quantitative", "scale": {"type": "log", "domain": [0.2175, 1.099], "nice": false}, "axis": {"orient": "left", "values": [1,0.8,0.6,0.4,0.25,0.3,0.35,0.45,0.5,0.55,0.65,0.7,0.75,0.85,0.9,0.95,1.05], "labelExpr": "indexof([1,0.8,0.6,0.4],datum.value)>=0?format(datum.value,'.1f'):''", "tickSize": {"condition": {"test": "indexof([1,0.8,0.6,0.4],datum.value)>=0", "value": -9}, "value": -5}, "labelPadding": 19, "title": "|⟨ψ(t)|ψ(0)⟩|²", "titleFont": "DejaVu Serif", "titleFontSize": 35, "titlePadding": 31}}}},
  {"mark": {"type": "point", "shape": "circle", "filled": false, "color": "#F7901E", "strokeWidth": 1.6, "size": 190, "xOffset": -1.5, "yOffset": 2.5},
   "encoding": {
    "x": {"field": "t", "type": "quantitative", "axis": null},
    "y": {"field": "y", "type": "quantitative", "axis": {"orient": "right", "values": [1,0.8,0.6,0.4,0.25,0.3,0.35,0.45,0.5,0.55,0.65,0.7,0.75,0.85,0.9,0.95,1.05], "labels": false, "tickSize": {"condition": {"test": "indexof([1,0.8,0.6,0.4],datum.value)>=0", "value": -9}, "value": -5}, "title": null}}}},
  {"data": {"values": [{"label": "(c1)"}]},
   "mark": {"type": "text", "font": "Liberation Serif", "fontSize": 34, "align": "right", "baseline": "top", "dx": -6, "dy": 8, "color": "black"},
   "encoding": {"x": {"datum": 10.24, "type": "quantitative", "axis": null}, "y": {"datum": 1.099, "type": "quantitative", "axis": null}, "text": {"field": "label"}}}
 ]},
{"width": 448, "height": 278, "title": "s=1, η=0.1", "data": {"name": "c2"},
 "resolve": {"axis": {"x": "independent", "y": "independent"}},
 "layer": [
  {"mark": {"type": "line", "color": "#5E81B5", "strokeWidth": 4},
   "encoding": {
    "x": {"field": "t", "type": "quantitative", "scale": {"domain": [-0.32, 10.24], "nice": false, "zero": false}, "axis": {"orient": "bottom", "values": [0,2,4,6,8,10], "tickSize": -8, "labelPadding": 20, "title": "t", "titleFontStyle": "italic", "titleFontSize": 33, "titlePadding": 30}},
    "y": {"field": "y", "type": "quantitative", "scale": {"type": "log", "domain": [0.424, 1.057], "nice": false}, "axis": {"orient": "left", "values": [1,0.9,0.8,0.7,0.6,0.5,0.44,0.46,0.48,0.52,0.54,0.56,0.58,0.62,0.64,0.66,0.68,0.72,0.74,0.76,0.78,0.82,0.84,0.86,0.88,0.92,0.94,0.96,0.98,1.02,1.04], "labelExpr": "indexof([1,0.9,0.8,0.7,0.6,0.5],datum.value)>=0?format(datum.value,'.1f'):''", "tickSize": {"condition": {"test": "indexof([1,0.9,0.8,0.7,0.6,0.5],datum.value)>=0", "value": -9}, "value": -5}, "labelPadding": 19, "labelFontSize": 31, "title": null}}}},
  {"mark": {"type": "point", "shape": "circle", "filled": false, "color": "#F7901E", "strokeWidth": 1.6, "size": 190, "xOffset": -1.5, "yOffset": 2.5},
   "encoding": {
    "x": {"field": "t", "type": "quantitative", "axis": null},
    "y": {"field": "y", "type": "quantitative", "axis": {"orient": "right", "values": [1,0.9,0.8,0.7,0.6,0.5,0.44,0.46,0.48,0.52,0.54,0.56,0.58,0.62,0.64,0.66,0.68,0.72,0.74,0.76,0.78,0.82,0.84,0.86,0.88,0.92,0.94,0.96,0.98,1.02,1.04], "labels": false, "tickSize": {"condition": {"test": "indexof([1,0.9,0.8,0.7,0.6,0.5],datum.value)>=0", "value": -9}, "value": -5}, "title": null}}}},
  {"data": {"values": [{"label": "(c2)"}]},
   "mark": {"type": "text", "font": "Liberation Serif", "fontSize": 34, "align": "right", "baseline": "top", "dx": -6, "dy": 8, "color": "black"},
   "encoding": {"x": {"datum": 10.24, "type": "quantitative", "axis": null}, "y": {"datum": 1.057, "type": "quantitative", "axis": null}, "text": {"field": "label"}}}
 ]},
{"width": 448, "height": 278, "title": "s=1, η=0.5", "data": {"name": "c3"},
 "resolve": {"axis": {"x": "independent", "y": "independent"}},
 "layer": [
  {"mark": {"type": "line", "color": "#5E81B5", "strokeWidth": 4},
   "encoding": {
    "x": {"field": "t", "type": "quantitative", "scale": {"domain": [-0.32, 10.24], "nice": false, "zero": false}, "axis": {"orient": "bottom", "values": [0,2,4,6,8,10], "tickSize": -8, "labelPadding": 20, "title": "t", "titleFontStyle": "italic", "titleFontSize": 33, "titlePadding": 30}},
    "y": {"field": "y", "type": "quantitative", "scale": {"type": "log", "domain": [0.4385, 1.058], "nice": false}, "axis": {"orient": "left", "values": [1,0.9,0.8,0.7,0.6,0.5,0.44,0.46,0.48,0.52,0.54,0.56,0.58,0.62,0.64,0.66,0.68,0.72,0.74,0.76,0.78,0.82,0.84,0.86,0.88,0.92,0.94,0.96,0.98,1.02,1.04], "labelExpr": "indexof([1,0.9,0.8,0.7,0.6,0.5],datum.value)>=0?format(datum.value,'.1f'):''", "tickSize": {"condition": {"test": "indexof([1,0.9,0.8,0.7,0.6,0.5],datum.value)>=0", "value": -9}, "value": -5}, "labelPadding": 19, "labelFontSize": 31, "title": null}}}},
  {"mark": {"type": "point", "shape": "circle", "filled": false, "color": "#F7901E", "strokeWidth": 1.6, "size": 190, "xOffset": -1.5, "yOffset": 2.5},
   "encoding": {
    "x": {"field": "t", "type": "quantitative", "axis": null},
    "y": {"field": "y", "type": "quantitative", "axis": {"orient": "right", "values": [1,0.9,0.8,0.7,0.6,0.5,0.44,0.46,0.48,0.52,0.54,0.56,0.58,0.62,0.64,0.66,0.68,0.72,0.74,0.76,0.78,0.82,0.84,0.86,0.88,0.92,0.94,0.96,0.98,1.02,1.04], "labels": false, "tickSize": {"condition": {"test": "indexof([1,0.9,0.8,0.7,0.6,0.5],datum.value)>=0", "value": -9}, "value": -5}, "title": null}}}},
  {"data": {"values": [{"label": "(c3)"}]},
   "mark": {"type": "text", "font": "Liberation Serif", "fontSize": 34, "align": "right", "baseline": "top", "dx": -6, "dy": 8, "color": "black"},
   "encoding": {"x": {"datum": 10.24, "type": "quantitative", "axis": null}, "y": {"datum": 1.058, "type": "quantitative", "axis": null}, "text": {"field": "label"}}}
 ]}
],
"columns": 3,
"spacing": {"row": 134, "column": 117},
"bounds": "flush"
}
